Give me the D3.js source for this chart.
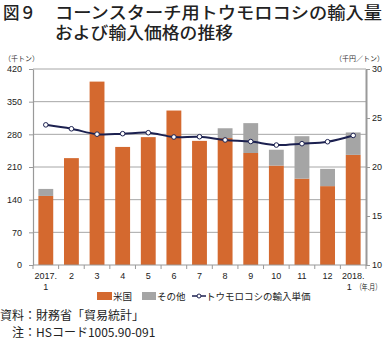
<!DOCTYPE html>
<html><head><meta charset="utf-8">
<script src="https://cdn.jsdelivr.net/npm/d3@7"></script>
<style>
html,body{margin:0;padding:0;background:#fff;}
svg{display:block;font-family:"Noto Sans CJK JP","Noto Sans",sans-serif;}
</style></head><body>
<svg id="c" width="386" height="341"></svg>
<script>
const months = ["2017.\n1","2","3","4","5","6","7","8","9","10","11","12","2018.\n1"];
const usValues = [148,229,393,253,274,331,266,272,240,213,185,169,236];
const otherValues = [15,0,0,0,0,0,0,21,64,34,91,37,48];
const unitPrice = [24.3,23.9,23.35,23.4,23.5,23.06,23.09,22.76,22.6,22.24,22.38,22.58,23.22];
const leftTicks = [0,70,140,210,280,350,420];
const rightTicks = [10,15,20,25,30];

const svg = d3.select("#c");
const L = 33, R = 366, T = 69, B = 265;
const x = d3.scaleBand().domain(months).range([L,R]).paddingInner(0.42).paddingOuter(0.21);
const yL = d3.scaleLinear().domain([0,420]).range([B,T]);
const yR = d3.scaleLinear().domain([10,30]).range([B,T]);
const orange = "#d4692f", gray = "#a5a5a5", navy = "#1c2150", grid = "#a6a6a6";

// title
svg.append("text").attr("x",3).attr("y",19).attr("font-size",16.5).attr("font-weight",500).attr("fill","#222").text("図９");
svg.append("text").attr("x",55).attr("y",19).attr("font-size",16.5).attr("font-weight",500).attr("fill","#222").attr("textLength",327).attr("lengthAdjust","spacingAndGlyphs").text("コーンスターチ用トウモロコシの輸入量");
svg.append("text").attr("x",55).attr("y",39).attr("font-size",16.5).attr("font-weight",500).attr("fill","#222").attr("textLength",178).attr("lengthAdjust","spacingAndGlyphs").text("および輸入価格の推移");

// units
svg.append("text").attr("x",4).attr("y",61).attr("font-size",7).attr("fill","#333").text("（千トン）");
svg.append("text").attr("x",384).attr("y",61).attr("font-size",7).attr("fill","#333").attr("text-anchor","end").text("（千円／トン）");

// gridlines
svg.append("g").selectAll("line").data(leftTicks.slice(1)).join("line")
  .attr("x1",L).attr("x2",R).attr("y1",d=>yL(d)).attr("y2",d=>yL(d))
  .attr("stroke",grid).attr("stroke-width",1);

// bars
const g = svg.append("g");
g.selectAll(".us").data(months).join("rect")
  .attr("x",d=>x(d)).attr("width",x.bandwidth())
  .attr("y",(d,i)=>yL(usValues[i])).attr("height",(d,i)=>yL(0)-yL(usValues[i]))
  .attr("fill",orange);
g.selectAll(".ot").data(months).join("rect")
  .attr("x",d=>x(d)).attr("width",x.bandwidth())
  .attr("y",(d,i)=>yL(usValues[i]+otherValues[i])).attr("height",(d,i)=>yL(usValues[i])-yL(usValues[i]+otherValues[i]))
  .attr("fill",gray);

// left axis
const axL = svg.append("g").attr("transform",`translate(${L},0)`)
  .call(d3.axisLeft(yL).tickValues(leftTicks).tickSize(4).tickSizeOuter(0));
axL.select(".domain").attr("stroke","#999").attr("stroke-width",1.2);
axL.selectAll(".tick line").attr("stroke","#999").attr("x2",0).attr("x1",-4);
axL.selectAll("text").attr("font-size",9).attr("fill","#222").attr("x",-11).attr("font-family","Arial, Liberation Sans, sans-serif");

// right axis
const axR = svg.append("g").attr("transform",`translate(${R},0)`)
  .call(d3.axisRight(yR).tickValues(rightTicks).tickSize(4).tickSizeOuter(0));
axR.select(".domain").attr("stroke","#999").attr("stroke-width",2);
axR.selectAll(".tick line").attr("stroke","#999");
axR.selectAll("text").attr("font-size",9).attr("fill","#222").attr("x",6).attr("font-family","Arial, Liberation Sans, sans-serif");

// bottom axis
svg.append("line").attr("x1",L).attr("x2",R).attr("y1",B).attr("y2",B).attr("stroke","#999").attr("stroke-width",1.2);
const step = x.step();
const bounds = d3.range(months.length+1).map(i=>x(months[0]) - (step - x.bandwidth())/2 + i*step);
svg.append("g").selectAll("line").data(bounds).join("line")
  .attr("x1",d=>d).attr("x2",d=>d).attr("y1",B).attr("y2",B+4).attr("stroke","#999");
const xl = svg.append("g").selectAll("text").data(months).join("text")
  .attr("x",d=>x(d)+x.bandwidth()/2).attr("y",279).attr("text-anchor","middle")
  .attr("font-size",9).attr("fill","#222").attr("font-family","Arial, Liberation Sans, sans-serif");
xl.each(function(d,i){
  const parts = d.split("\n");
  const t = d3.select(this);
  t.append("tspan").attr("x",x(d)+x.bandwidth()/2).attr("dy",0).text(parts[0]);
  if(parts[1]){
    t.append("tspan").attr("x",x(d)+x.bandwidth()/2 - (i===months.length-1?4:0)).attr("dy",11).text(parts[1]);
  }
});
svg.append("text").attr("x",356).attr("y",290).attr("font-size",8).attr("fill","#222").attr("textLength",25).attr("lengthAdjust","spacingAndGlyphs").text("（年.月）");

// line
const lineGen = d3.line().x((d,i)=>x(months[i])+x.bandwidth()/2).y(d=>yR(d)).curve(d3.curveCatmullRom.alpha(0.5));
svg.append("path").datum(unitPrice).attr("d",lineGen).attr("fill","none").attr("stroke",navy).attr("stroke-width",2);
svg.append("g").selectAll("circle").data(unitPrice).join("circle")
  .attr("cx",(d,i)=>x(months[i])+x.bandwidth()/2).attr("cy",d=>yR(d)).attr("r",2.3)
  .attr("fill","#fff").attr("stroke",navy).attr("stroke-width",1);

// legend
const lg = svg.append("g");
lg.append("rect").attr("x",97).attr("y",292).attr("width",15).attr("height",8).attr("fill",orange);
lg.append("text").attr("x",113).attr("y",300).attr("font-size",9.5).attr("fill","#222").text("米国");
lg.append("rect").attr("x",142).attr("y",292).attr("width",14).attr("height",8).attr("fill",gray);
lg.append("text").attr("x",157).attr("y",300).attr("font-size",9.5).attr("fill","#222").text("その他");
lg.append("line").attr("x1",192).attr("x2",206).attr("y1",296).attr("y2",296).attr("stroke",navy).attr("stroke-width",1.5);
lg.append("circle").attr("cx",199).attr("cy",296).attr("r",2).attr("fill","#fff").attr("stroke",navy).attr("stroke-width",1);
lg.append("text").attr("x",206).attr("y",300).attr("font-size",9.5).attr("fill","#222").text("トウモロコシの輸入単価");

// footer
svg.append("text").attr("x",0).attr("y",320).attr("font-size",12).attr("fill","#222").text("資料：財務省「貿易統計」");
svg.append("text").attr("x",12).attr("y",337).attr("font-size",12).attr("fill","#222").text("注：HSコード1005.90-091");
</script></body></html>
